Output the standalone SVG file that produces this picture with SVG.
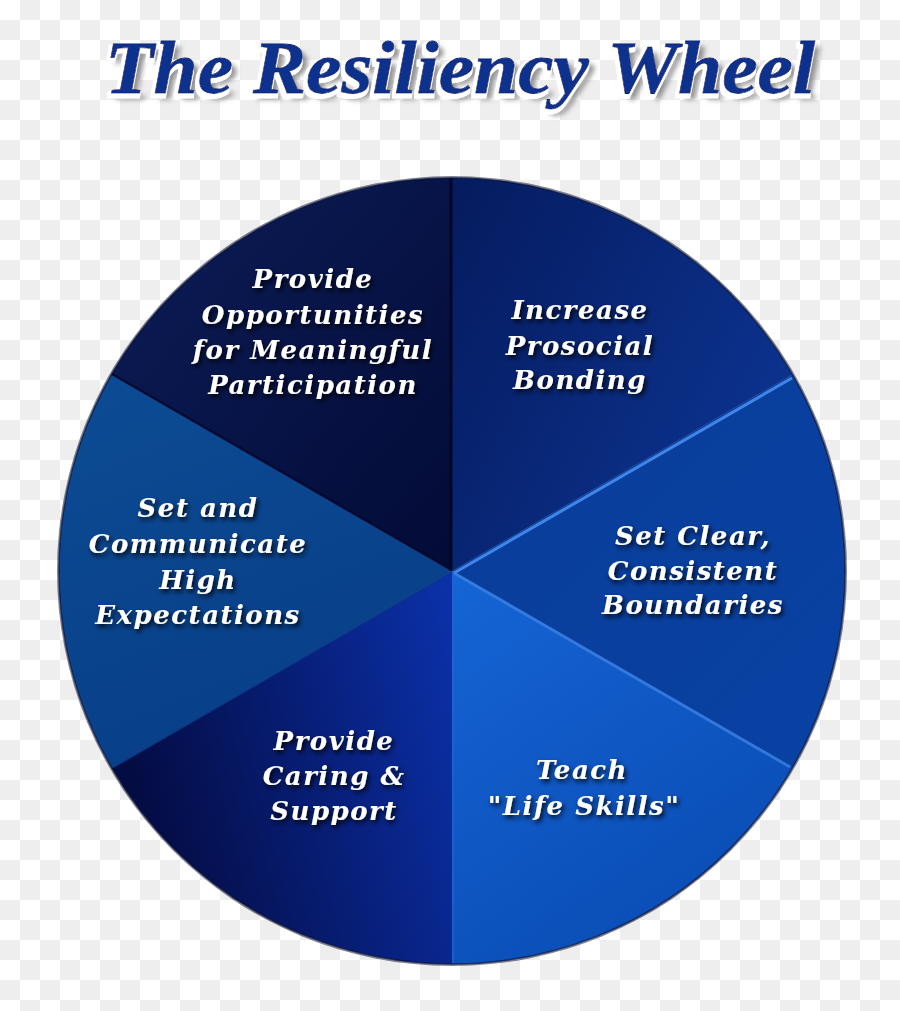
<svg xmlns="http://www.w3.org/2000/svg" width="900" height="1011" viewBox="0 0 900 1011">
<defs>
<pattern id="checker" x="0" y="0" width="40" height="40" patternUnits="userSpaceOnUse">
<rect width="40" height="40" fill="#ffffff"/>
<rect x="20" y="0" width="20" height="20" fill="#eeeeee"/>
<rect x="0" y="20" width="20" height="20" fill="#eeeeee"/>
</pattern>
<linearGradient id="gTL" x1="0" y1="0" x2="1" y2="1">
<stop offset="0" stop-color="#0c1d58"/>
<stop offset="1" stop-color="#030b36"/>
</linearGradient>
<linearGradient id="gTR" x1="0" y1="0" x2="1" y2="0.6">
<stop offset="0" stop-color="#051b5e"/>
<stop offset="1" stop-color="#0c3390"/>
</linearGradient>
<linearGradient id="gR" x1="0" y1="0" x2="1" y2="1">
<stop offset="0" stop-color="#0a3c98"/>
<stop offset="1" stop-color="#0842a4"/>
</linearGradient>
<linearGradient id="gBR" x1="0" y1="0" x2="0.6" y2="1">
<stop offset="0" stop-color="#1565d6"/>
<stop offset="1" stop-color="#0a4cb4"/>
</linearGradient>
<linearGradient id="gBL" x1="0" y1="0.3" x2="1" y2="0">
<stop offset="0" stop-color="#040c44"/>
<stop offset="1" stop-color="#0b31ab"/>
</linearGradient>
<linearGradient id="gL" x1="0" y1="0" x2="0.4" y2="1">
<stop offset="0" stop-color="#0c4c94"/>
<stop offset="1" stop-color="#083e88"/>
</linearGradient>
<filter id="tshadow" x="-20%" y="-30%" width="140%" height="170%">
<feDropShadow dx="2" dy="3" stdDeviation="2.5" flood-color="#000000" flood-opacity="0.9"/>
</filter>
<filter id="titlefx" x="-5%" y="-30%" width="110%" height="170%">
<feGaussianBlur in="SourceAlpha" stdDeviation="2.5" result="b"/>
<feOffset in="b" dx="5" dy="6" result="bo"/>
<feFlood flood-color="#7a7a7a" flood-opacity="0.8"/>
<feComposite in2="bo" operator="in" result="shadow"/>
<feMorphology in="SourceAlpha" operator="dilate" radius="1.5" result="d"/>
<feOffset in="d" dx="-2" dy="3" result="do"/>
<feFlood flood-color="#ffffff"/>
<feComposite in2="do" operator="in" result="white"/>
<feMerge>
<feMergeNode in="shadow"/>
<feMergeNode in="white"/>
<feMergeNode in="SourceGraphic"/>
</feMerge>
</filter>
</defs>
<style>
.lbl{font-family:"DejaVu Serif","Liberation Serif",serif;font-weight:bold;font-style:italic;font-size:26px;letter-spacing:1.5px;fill:#ffffff;text-anchor:middle;filter:url(#tshadow);}
.title{font-family:"Liberation Serif","DejaVu Serif",serif;font-weight:bold;font-style:italic;font-size:74px;fill:#10308e;stroke:#0a2578;stroke-width:0.8;filter:url(#titlefx);}
.edge-light{stroke:#3f86ea;stroke-width:3;fill:none;}
.edge-dark{stroke:#010624;stroke-width:3;fill:none;}
</style>
<rect width="900" height="1011" fill="url(#checker)"/>

<g id="title">
<text class="title" x="105" y="93" textLength="710" lengthAdjust="spacingAndGlyphs">The Resiliency Wheel</text>
</g>

<g id="wheel">
<circle cx="452" cy="571" r="395" fill="#020a30" opacity="0.5"/>
<g id="sector-opportunities">
<path d="M452,571 L111.65,374.5 A393,393 0 0 1 452,178 Z" fill="url(#gTL)"/>
<text class="lbl" x="313" y="288">Provide</text>
<text class="lbl" x="313" y="324">Opportunities</text>
<text class="lbl" x="313" y="359">for Meaningful</text>
<text class="lbl" x="313" y="394">Participation</text>
</g>
<g id="sector-bonding">
<path d="M452,571 L452,178 A393,393 0 0 1 792.35,374.5 Z" fill="url(#gTR)"/>
<text class="lbl" x="580" y="319">Increase</text>
<text class="lbl" x="580" y="355">Prosocial</text>
<text class="lbl" x="580" y="389">Bonding</text>
</g>
<g id="sector-boundaries">
<path d="M452,571 L792.35,374.5 A393,393 0 0 1 792.35,767.5 Z" fill="url(#gR)"/>
<text class="lbl" x="693" y="545">Set Clear,</text>
<text class="lbl" x="693" y="580">Consistent</text>
<text class="lbl" x="693" y="614">Boundaries</text>
</g>
<g id="sector-lifeskills">
<path d="M452,571 L792.35,767.5 A393,393 0 0 1 452,964 Z" fill="url(#gBR)"/>
<text class="lbl" x="582" y="779">Teach</text>
<text class="lbl" x="584" y="815">"Life Skills"</text>
</g>
<g id="sector-caring">
<path d="M452,571 L452,964 A393,393 0 0 1 111.65,767.5 Z" fill="url(#gBL)"/>
<text class="lbl" x="334" y="750">Provide</text>
<text class="lbl" x="334" y="785">Caring &amp;</text>
<text class="lbl" x="334" y="820">Support</text>
</g>
<g id="sector-expectations">
<path d="M452,571 L111.65,767.5 A393,393 0 0 1 111.65,374.5 Z" fill="url(#gL)"/>
<text class="lbl" x="198" y="517">Set and</text>
<text class="lbl" x="198" y="553">Communicate</text>
<text class="lbl" x="198" y="589">High</text>
<text class="lbl" x="198" y="624">Expectations</text>
</g>
</g>

<g id="connectors">
<line class="edge-dark" x1="451" y1="571" x2="451" y2="179"/>
<line class="edge-light" x1="454" y1="573" x2="792" y2="378" stroke-width="2.5"/>
<line class="edge-light" x1="454" y1="573" x2="790" y2="767" stroke-width="2" opacity="0.7"/>
<line x1="453" y1="573" x2="453" y2="963" stroke="#2a5fd0" stroke-width="2" opacity="0.7"/>
<line x1="450" y1="573" x2="112" y2="768" stroke="#0a3a8a" stroke-width="2" opacity="0.8"/>
<line x1="450" y1="569" x2="112" y2="374" stroke="#01082e" stroke-width="2.5" opacity="0.9"/>
<circle cx="452" cy="571" r="393" fill="none" stroke="#010828" stroke-width="1.5" opacity="0.6"/>
</g>
</svg>
